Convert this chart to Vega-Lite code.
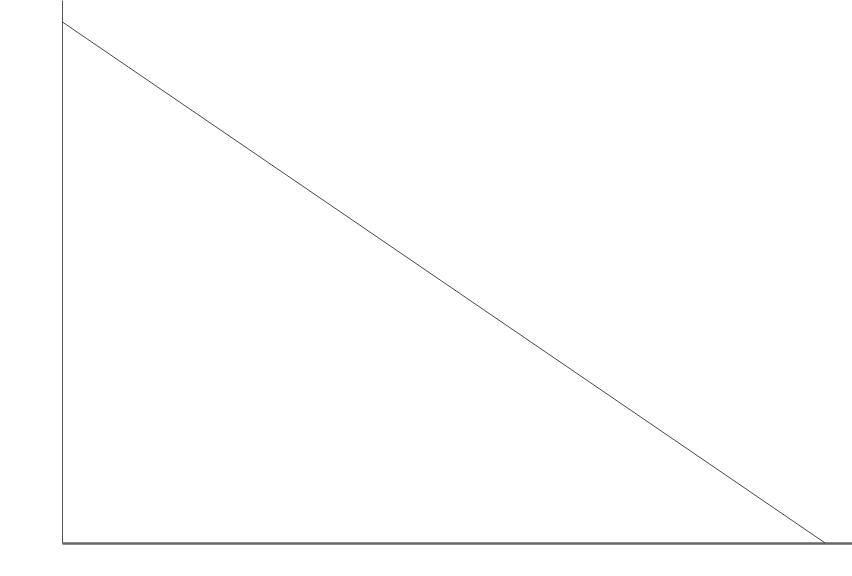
{
  "$schema": "https://vega.github.io/schema/vega-lite/v6.json",
  "autosize": {"type": "none"},
  "padding": {"left": 62, "top": 0, "right": 0, "bottom": 33},
  "width": 790,
  "height": 543,
  "data": {
    "values": [
      {"x": 0, "y": 96},
      {"x": 96.6, "y": 0}
    ]
  },
  "mark": {"type": "line", "color": "#333", "strokeWidth": 0.9},
  "encoding": {
    "x": {
      "field": "x",
      "type": "quantitative",
      "scale": {"domain": [0, 100], "nice": false, "zero": true},
      "axis": {"title": null, "labels": false, "ticks": false, "grid": false, "domainColor": "#666", "domainWidth": 2.5}
    },
    "y": {
      "field": "y",
      "type": "quantitative",
      "scale": {"domain": [0, 100], "nice": false},
      "axis": {"title": null, "labels": false, "ticks": false, "grid": false, "domainColor": "#555", "domainWidth": 1}
    }
  },
  "config": {"view": {"stroke": null}}
}
